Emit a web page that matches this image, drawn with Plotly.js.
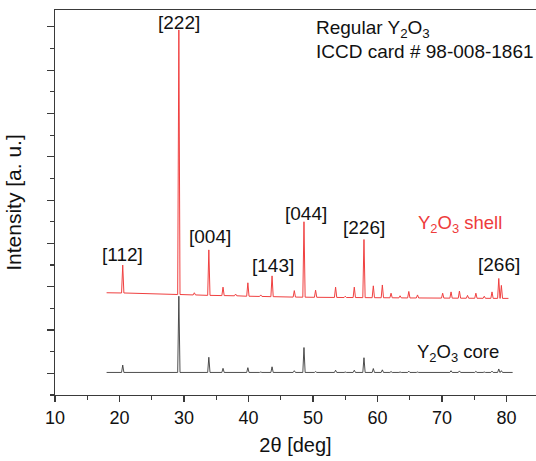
<!DOCTYPE html>
<html>
<head>
<meta charset="utf-8">
<script src="https://cdn.plot.ly/plotly-3.0.1.min.js"></script>
<style>html,body{margin:0;padding:0;background:#fff;}#chart{width:536px;height:461px;}</style>
</head>
<body>
<div id="chart"></div>
<script>
// Peak positions (2θ, deg)
const twoTheta = [20.5, 29.2, 31.6, 33.85, 36.05, 38.0, 39.9, 41.9, 43.65, 47.1, 48.6, 50.4, 53.5, 55.0, 56.4, 57.9, 59.35, 60.75, 62.1, 63.5, 64.85, 66.2, 70.1, 71.4, 72.7, 73.95, 75.25, 76.55, 77.75, 78.8, 79.2];
// Y2O3 shell: peak tops and local background under each peak (a.u.)
const shellPeak  = [2500, 7930, 1860, 2850, 1990, 1830, 2090, 1810, 2250, 1910, 3500, 1920, 1990, 1780, 1990, 3090, 2020, 2040, 1850, 1790, 1890, 1810, 1850, 1880, 1900, 1800, 1850, 1780, 1880, 2190, 2030];
const shellFloor = [1855, 1820, 1810, 1800, 1795, 1790, 1780, 1775, 1770, 1760, 1758, 1755, 1752, 1750, 1750, 1748, 1746, 1745, 1744, 1742, 1740, 1740, 1737, 1736, 1735, 1734, 1733, 1732, 1731, 1730, 1730];
const shellStart = [18.0, 1860];
const shellEnd   = [80.3, 1730];
// Y2O3 core: peak tops and flat background
const corePeak  = [190, 1780, 25, 370, 115, 30, 130, 30, 150, 60, 595, 40, 70, 30, 70, 360, 110, 80, 40, 30, 50, 30, 35, 60, 55, 30, 45, 30, 50, 100, 60];
const coreFloor = 20;
const coreStart = [18.0, 20];
const coreEnd   = [80.95, 20];
// Miller-index labels
const hklLabels = ['[112]', '[222]', '[004]', '[143]', '[044]', '[226]', '[266]'];
const hklX      = [20.54, 29.22, 34.03, 43.72, 48.84, 57.98, 78.91];
const hklY      = [2755, 8090, 3148, 2490, 3702, 3356, 2513];

const HW = 0.18; // half width of each drawn peak (deg)
function buildTrace(peaks, floors, start, end) {
  const xs = [start[0]], ys = [start[1]];
  for (let i = 0; i < twoTheta.length; i++) {
    const f = Array.isArray(floors) ? floors[i] : floors;
    xs.push(twoTheta[i] - HW, twoTheta[i], twoTheta[i] + HW);
    ys.push(f, peaks[i], f);
  }
  xs.push(end[0]); ys.push(end[1]);
  return {x: xs, y: ys};
}
const shell = buildTrace(shellPeak, shellFloor, shellStart, shellEnd);
const core = buildTrace(corePeak, coreFloor, coreStart, coreEnd);

const FONT = 'Liberation Sans, Arial, sans-serif';
const traces = [
  {x: core.x, y: core.y, type: 'scatter', mode: 'lines', line: {color: '#3a3a3a', width: 0.9}, hoverinfo: 'skip'},
  {x: shell.x, y: shell.y, type: 'scatter', mode: 'lines', line: {color: '#f04040', width: 1}, hoverinfo: 'skip'}
];

const annotations = hklLabels.map((t, i) => ({
  text: t, x: hklX[i], y: hklY[i], xref: 'x', yref: 'y', showarrow: false,
  xanchor: 'center', yanchor: 'middle', font: {family: FONT, size: 19, color: '#111'}
}));
annotations.push(
  {text: 'Regular Y<sub>2</sub>O<sub>3</sub>', x: 50.1, y: 7960, xref: 'x', yref: 'y', showarrow: false, xanchor: 'left', yanchor: 'middle', font: {family: FONT, size: 19, color: '#111'}},
  {text: 'ICCD card # 98-008-1861', x: 50.1, y: 7443, xref: 'x', yref: 'y', showarrow: false, xanchor: 'left', yanchor: 'middle', font: {family: FONT, size: 19, color: '#111'}},
  {text: 'Y<sub>2</sub>O<sub>3</sub> shell', x: 65.97, y: 3448, xref: 'x', yref: 'y', showarrow: false, xanchor: 'left', yanchor: 'middle', font: {family: FONT, size: 18.5, color: '#ee3b3b'}},
  {text: 'Y<sub>2</sub>O<sub>3</sub> core', x: 65.81, y: 469, xref: 'x', yref: 'y', showarrow: false, xanchor: 'left', yanchor: 'middle', font: {family: FONT, size: 18.5, color: '#111'}}
);

const layout = {
  width: 536, height: 461,
  margin: {l: 55, r: 0, t: 10, b: 66},
  paper_bgcolor: '#fff', plot_bgcolor: '#fff',
  showlegend: false,
  font: {family: FONT, size: 18, color: '#111'},
  xaxis: {
    range: [10, 84.57], tick0: 10, dtick: 10,
    showgrid: false, zeroline: false,
    showline: true, linecolor: '#3a3a3a', linewidth: 1.3, mirror: true,
    ticks: 'outside', ticklen: 6, tickwidth: 1.2, tickcolor: '#3a3a3a',
    minor: {dtick: 5, ticks: 'outside', ticklen: 4, tickwidth: 1.2, tickcolor: '#3a3a3a', showgrid: false},
    tickfont: {family: FONT, size: 18, color: '#111'},
    title: {text: '2θ [deg]', font: {family: FONT, size: 20, color: '#111'}, standoff: 11}
  },
  yaxis: {
    range: [-501, 8390], tick0: 0, dtick: 1000,
    showgrid: false, zeroline: false, showticklabels: false,
    showline: true, linecolor: '#3a3a3a', linewidth: 1.3, mirror: false,
    ticks: 'outside', ticklen: 6.5, tickwidth: 1.2, tickcolor: '#3a3a3a',
    minor: {dtick: 500, ticks: 'outside', ticklen: 3.5, tickwidth: 1.2, tickcolor: '#3a3a3a', showgrid: false},
    title: {text: 'Intensity [a. u.]', font: {family: FONT, size: 21, color: '#111'}, standoff: 20}
  },
  annotations: annotations
};

Plotly.newPlot('chart', traces, layout, {staticPlot: true, displayModeBar: false});
</script>
</body>
</html>
